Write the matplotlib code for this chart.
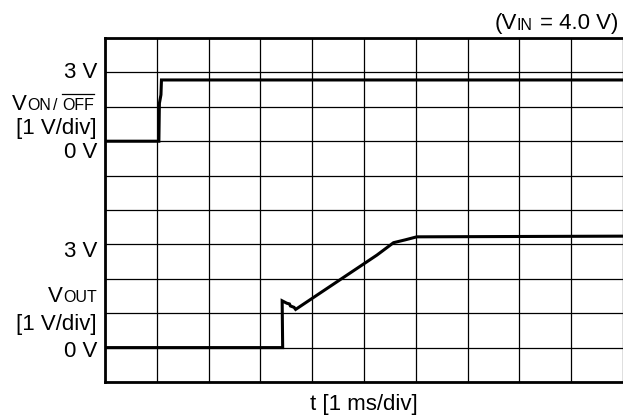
import matplotlib
matplotlib.use("Agg")
import matplotlib.pyplot as plt
from matplotlib.lines import Line2D

plt.rcParams['font.family'] = ['Liberation Sans', 'DejaVu Sans']

# time axis in ms (1 ms/div), vertical axis in screen divisions
von_t = [0.0, 1.04, 1.05, 1.08, 1.09, 10.0]
von_v = [7.0, 7.0, 8.10, 8.35, 8.78, 8.78]

vout_t = [0.0, 3.43, 3.42, 3.51, 3.56, 3.58, 3.65, 3.68, 5.25, 5.57, 5.79, 6.02, 10.0]
vout_v = [1.0, 1.0, 2.36, 2.29, 2.27, 2.21, 2.17, 2.11, 3.69, 4.05, 4.13, 4.22, 4.24]

W, H = 623, 417
fig = plt.figure(figsize=(W / 100, H / 100), dpi=100)
ax = fig.add_axes([105 / W, 1 - 382 / H, (623 - 105) / W, (382 - 38) / H])
ax.set_xlim(0, 10)
ax.set_ylim(0, 10)
ax.set_xticks(range(11))
ax.set_yticks(range(11))
ax.tick_params(length=0, labelleft=False, labelbottom=False)
ax.grid(True, color='black', linewidth=0.9)
for s in ['left', 'top', 'bottom']:
    ax.spines[s].set_linewidth(2.0)
ax.spines['right'].set_visible(False)

ax.plot(von_t, von_v, color='black', linewidth=2.2, solid_joinstyle='miter')
ax.plot(vout_t, vout_v, color='black', linewidth=2.2, solid_joinstyle='miter')

fs = 16
SUB = 0.72
renderer = fig.canvas.get_renderer()


def ftext(x, y, s, **kw):
    fig.text(x / W, 1 - y / H, s, fontsize=fs, va='baseline', **kw)


def rich(x, yb, pieces, ha='right'):
    # pieces: (text, scale, dy_px, overline, gap_before_px)
    objs = []
    total = 0.0
    for s, sc, dy, ov, gap in pieces:
        t = fig.text(0, 0, s, fontsize=fs * sc, va='baseline', ha='left')
        w = t.get_window_extent(renderer).width
        objs.append((t, w, dy, ov, gap, sc))
        total += gap + w
    if ha == 'right':
        cx = x - total
    elif ha == 'center':
        cx = x - total / 2
    else:
        cx = x
    for t, w, dy, ov, gap, sc in objs:
        cx += gap
        t.set_position((cx / W, 1 - (yb + dy) / H))
        if ov:
            yo = 1 - (yb - 15.7) / H
            fig.add_artist(Line2D([cx / W, (cx + w) / W], [yo, yo],
                                  color='black', linewidth=0.9))
        cx += w


ftext(97, 78, '3 V', ha='right')
rich(94, 110, [('V', 1, 0, False, 0), ('ON', SUB, 0.5, False, 0),
               ('/', SUB, 0.5, False, 2), ('OFF', SUB, 0.5, True, 5)])
ftext(97, 134, '[1 V/div]', ha='right')
ftext(97, 158, '0 V', ha='right')

ftext(97, 257, '3 V', ha='right')
rich(97, 302, [('V', 1, 0, False, 0), ('OUT', SUB, 0.5, False, 0)])
ftext(97, 330, '[1 V/div]', ha='right')
ftext(97, 357, '0 V', ha='right')

rich(618, 29, [('(V', 1, 0, False, 0), ('IN', SUB, 0.8, False, 0),
               ('= 4.0 V)', 1, 0, False, 7)])
ftext(364, 410, 't [1 ms/div]', ha='center')

fig.savefig('out.png', dpi=100)
